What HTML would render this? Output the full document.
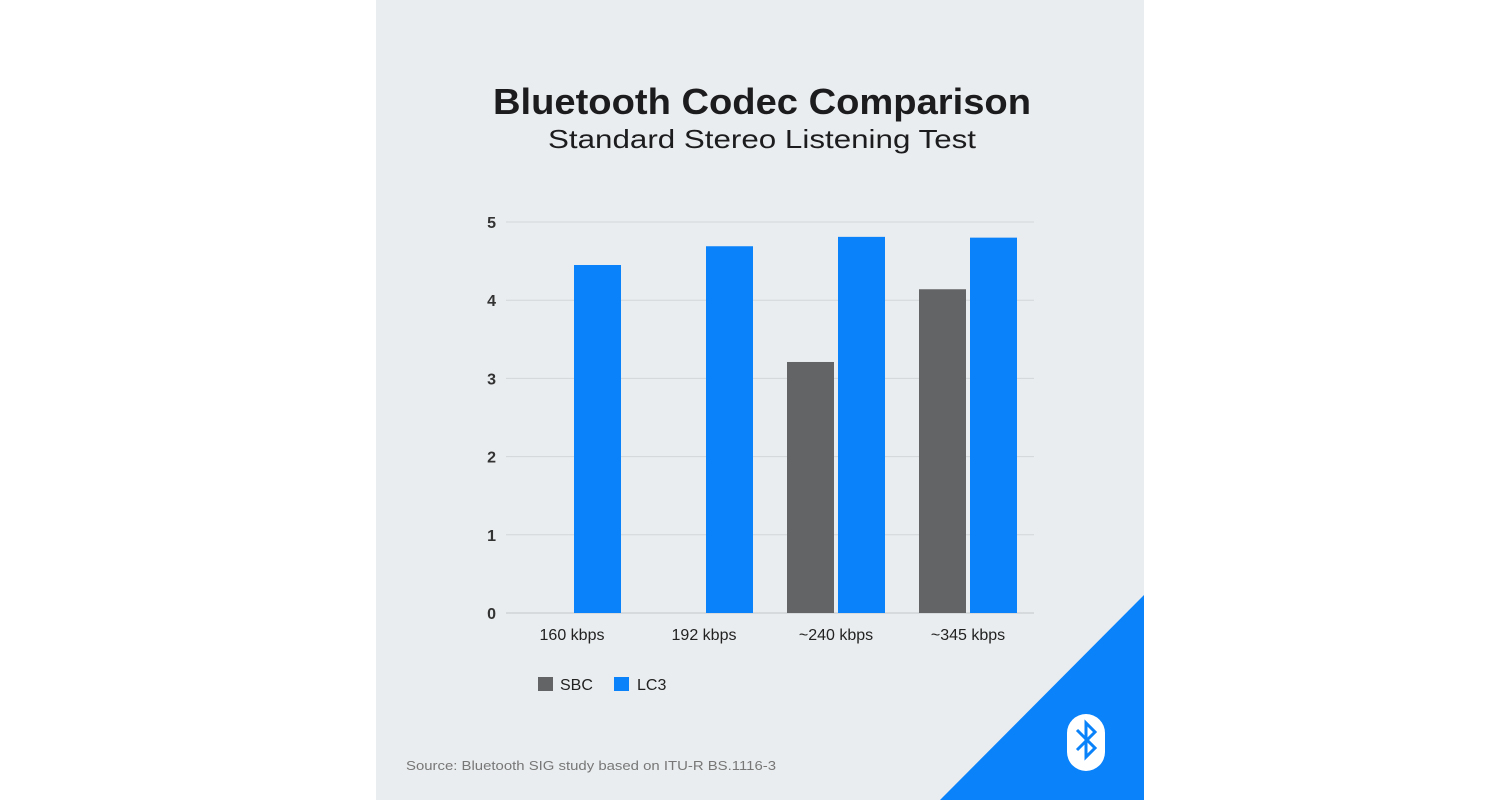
<!DOCTYPE html>
<html><head><meta charset="utf-8"><style>
html,body{margin:0;padding:0;background:#fff;width:1500px;height:800px;overflow:hidden}
svg{display:block;font-family:"Liberation Sans",sans-serif}
</style></head><body>
<svg width="1500" height="800" viewBox="0 0 1500 800">
<rect x="376" y="0" width="768" height="800" fill="#eaedef"/>
<polygon points="940,800 1144,595 1144,800" fill="#0a82fa"/>
<g>
<rect x="1067" y="714" width="38" height="57" rx="19" fill="#fff"/>
<path d="M1077,730 L1095,748 L1086,757 L1086,723 L1095,732 L1077,750" fill="none" stroke="#0a82fa" stroke-width="3"/>
</g>
<text x="762" y="114" text-anchor="middle" font-size="36" font-weight="bold" fill="#1c1c1e" textLength="538" lengthAdjust="spacingAndGlyphs">Bluetooth Codec Comparison</text>
<text x="762" y="148" text-anchor="middle" font-size="26" fill="#1c1c1e" textLength="428" lengthAdjust="spacingAndGlyphs">Standard Stereo Listening Test</text>
<g id="grid"></g>
<g id="bars"></g>
<g id="xlabels"></g>
<g>
<rect x="538" y="677" width="15" height="14" fill="#636466"/>
<text x="560" y="690" font-size="16" fill="#222">SBC</text>
<rect x="614" y="677" width="15" height="14" fill="#0a82fa"/>
<text x="637" y="690" font-size="16" fill="#222">LC3</text>
</g>
<text x="406" y="770" font-size="13" fill="#777" textLength="370" lengthAdjust="spacingAndGlyphs">Source: Bluetooth SIG study based on ITU-R BS.1116-3</text>
</svg>
<script>
const categories = ["160 kbps", "192 kbps", "~240 kbps", "~345 kbps"];
const sbcValues = [null, null, 3.21, 4.14];
const lc3Values = [4.45, 4.69, 4.81, 4.80];
const yTicks = [0, 1, 2, 3, 4, 5];

const NS = "http://www.w3.org/2000/svg";
const y0 = 613, yTop = 222, yMax = 5;
const yScale = v => y0 - (v / yMax) * (y0 - yTop);
const bandStart = 506, bandW = 132;
const xCenter = i => bandStart + bandW * (i + 0.5);
const barW = 47;
function mk(tag, attrs, parent) {
  const el = document.createElementNS(NS, tag);
  for (const k in attrs) el.setAttribute(k, attrs[k]);
  parent.appendChild(el);
  return el;
}
const grid = document.getElementById("grid");
yTicks.forEach(t => {
  const y = yScale(t);
  const l = mk("line", {x1: 506, x2: 1034, y1: y, y2: y, stroke: t === 0 ? "#c4c7ca" : "#d3d6d9", "stroke-width": 1}, grid);
  
  
  const tx = mk("text", {x: 496, y: y + 6, "text-anchor": "end", "font-size": 16, "font-weight": "bold", fill: "#333"}, grid);
  tx.textContent = t;
  
  
});
const bars = document.getElementById("bars");
const xl = document.getElementById("xlabels");
categories.forEach((c, i) => {
  const cx = xCenter(i);
  if (sbcValues[i] != null) {
    const r = mk("rect", {x: cx - 49, y: yScale(sbcValues[i]), width: barW, height: y0 - yScale(sbcValues[i]), fill: "#636466"}, bars);
    
    
  }
  if (lc3Values[i] != null) {
    const r = mk("rect", {x: cx + 2, y: yScale(lc3Values[i]), width: barW, height: y0 - yScale(lc3Values[i]), fill: "#0a82fa"}, bars);
    
    
  }
  const t = mk("text", {x: cx, y: 640, "text-anchor": "middle", "font-size": 16, fill: "#222"}, xl);
  t.textContent = c;
  
  
});
</script>
</body></html>
